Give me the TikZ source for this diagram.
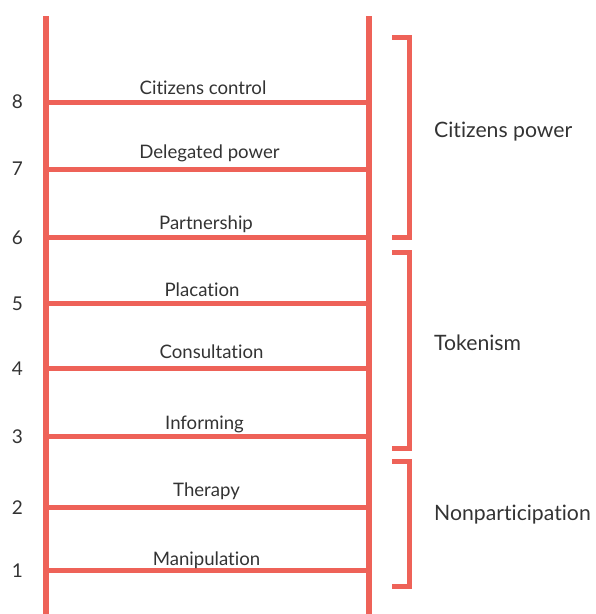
\documentclass[tikz,border=0pt]{standalone}
\usepackage{fontspec}
\setmainfont{Lato}[Ligatures=NoCommon]
\usepackage{xcolor}
\usetikzlibrary{positioning, calc}

\definecolor{ladderred}{RGB}{238,98,88}
\definecolor{labelgray}{RGB}{51,51,51}

\begin{document}
\begin{tikzpicture}[
    x=1pt, y=-1pt,
    rail/.style={draw=ladderred, line width=5.5pt},
    rung/.style={draw=ladderred, line width=5pt},
    bracket/.style={draw=ladderred, line width=5pt, line join=miter},
    rungtext/.style={font=\fontsize{18.6}{20}\selectfont, text=labelgray, inner sep=0pt, anchor=base},
    numtext/.style={font=\fontsize{19}{21}\selectfont, text=labelgray, inner sep=0pt},
    grouptext/.style={font=\fontsize{21.2}{23}\selectfont, text=labelgray, inner sep=0pt, anchor=base west},
]
    \useasboundingbox (0,0) rectangle (596,614);

    % rails
    \coordinate (lefttop) at (46,16);
    \coordinate (leftbot) at (46,614);
    \coordinate (righttop) at (369,16);
    \coordinate (rightbot) at (369,614);
    \draw[rail] (lefttop) -- (leftbot);
    \draw[rail] (righttop) -- (rightbot);

    % rungs of the ladder
    \foreach \n/\y/\dx/\dy/\txt in {8/102/-4.5/8/Citizens control,
        7/169/2/10.5/Delegated power, 6/237.5/-1.5/8/Partnership,
        5/303.5/-5.5/7.5/Placation, 4/368.3/4/10/Consultation,
        3/436.7/-3/7.7/Informing, 2/507.3/-1/10.6/Therapy,
        1/570.7/-1/5.7/Manipulation} {
        \coordinate (l\n) at (46,\y);
        \coordinate (r\n) at (369,\y);
        \draw[rung] (l\n) -- (r\n);
        \node[rungtext] (name\n) at ($(l\n)!0.5!(r\n) + (\dx,-\dy)$) {\txt};
        \node[numtext] (num\n) at (17.5,\y) {\n};
    }

    % brackets
    \foreach \b/\top/\bot in {power/37.5/237.5, token/252/448, nonpart/461.5/586.5} {
        \coordinate (\b a) at (392,\top);
        \coordinate (\b b) at (409,\top);
        \coordinate (\b c) at (409,\bot);
        \coordinate (\b d) at (392,\bot);
        \draw[bracket] (\b a) -- (\b b) -- (\b c) -- (\b d);
    }

    \node[grouptext] (powerlabel) at (434,137) {Citizens power};
    \node[grouptext] (tokenlabel) at (434,350) {Tokenism};
    \node[grouptext] (nonpartlabel) at (434,520) {Nonparticipation};
\end{tikzpicture}
\end{document}
